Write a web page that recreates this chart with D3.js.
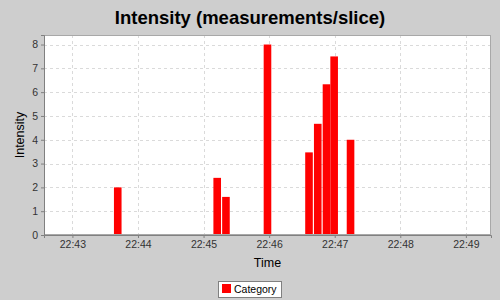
<!DOCTYPE html>
<html><head><meta charset="utf-8">
<script src="https://cdn.jsdelivr.net/npm/d3@7"></script>
<style>html,body{margin:0;padding:0;background:#cecece;}svg{display:block;}</style>
</head><body>
<svg id="chart" width="500" height="300"></svg>
<script>
const title = "Intensity (measurements/slice)";
const xLabel = "Time";
const yLabel = "Intensity";
const seriesName = "Category";
const sliceStarts = ["22:43:38","22:45:09","22:45:17","22:45:55","22:46:33","22:46:41","22:46:49","22:46:56","22:47:11"];
const values = [2, 2.4, 1.6, 8, 3.47, 4.67, 6.33, 7.5, 4];
const sliceSeconds = 7.6;
const xDomain = ["22:42:34", "22:49:23"];
const yTicks = [0,1,2,3,4,5,6,7,8];
const yMax = 8.4;

const parse = d3.utcParse("%H:%M:%S");
const svg = d3.select("#chart");
const W = 500, H = 300;
const m = {left: 44, right: 9, top: 35, bottom: 65};
const pw = W - m.left - m.right, ph = H - m.top - m.bottom;

svg.append("rect").attr("width", W).attr("height", H).attr("fill", "#cecece");

const x = d3.scaleUtc().domain(xDomain.map(parse)).range([m.left, m.left + pw]);
const y = d3.scaleLinear().domain([0, yMax]).range([m.top + ph, m.top]);

// plot background
svg.append("rect").attr("x", m.left).attr("y", m.top).attr("width", pw).attr("height", ph)
  .attr("fill", "#ffffff");

const xTicks = x.ticks(d3.utcMinute.every(1));
// gridlines
svg.append("g").selectAll("line").data(yTicks.filter(d => d > 0)).join("line")
  .attr("x1", m.left).attr("x2", m.left + pw)
  .attr("y1", d => Math.round(y(d)) + 0.5).attr("y2", d => Math.round(y(d)) + 0.5)
  .attr("stroke", "#dadada").attr("stroke-dasharray", "3,3");
svg.append("g").selectAll("line").data(xTicks).join("line")
  .attr("x1", d => Math.round(x(d)) + 0.5).attr("x2", d => Math.round(x(d)) + 0.5)
  .attr("y1", m.top).attr("y2", m.top + ph)
  .attr("stroke", "#dadada").attr("stroke-dasharray", "3,3");

// bars
const data = sliceStarts.map((s, i) => ({t: parse(s), v: values[i]}));
svg.append("g").selectAll("rect").data(data).join("rect")
  .attr("x", d => x(d.t))
  .attr("width", d => x(new Date(d.t.getTime() + sliceSeconds * 1000)) - x(d.t) - 0.7)
  .attr("y", d => y(d.v))
  .attr("height", d => y(0) - y(d.v))
  .attr("fill", "#ff0000");

// plot outline
svg.append("rect").attr("x", m.left + 0.5).attr("y", m.top + 0.5).attr("width", pw - 1).attr("height", ph - 1)
  .attr("fill", "none").attr("stroke", "#a8a8a8");

// axes
const font = "'Liberation Sans', Arial, sans-serif";
const yAxis = svg.append("g").attr("transform", `translate(${m.left},0)`)
  .call(d3.axisLeft(y).tickValues(yTicks).tickSize(3).tickPadding(3).tickFormat(d3.format("d")));
const xAxis = svg.append("g").attr("transform", `translate(0,${m.top + ph})`)
  .call(d3.axisBottom(x).tickValues(xTicks).tickSize(3).tickPadding(3).tickFormat(d3.utcFormat("%H:%M")));
[yAxis, xAxis].forEach(g => {
  g.select(".domain").attr("stroke", "#808080");
  g.selectAll(".tick line").attr("stroke", "#808080");
  g.selectAll(".tick text").attr("fill", "#333").style("font-family", font).style("font-size", "10.5px");
});

// title
svg.append("text").attr("x", 250).attr("y", 24).attr("text-anchor", "middle")
  .style("font-family", font).style("font-weight", "bold").style("font-size", "18.5px")
  .attr("fill", "#000").text(title);
// axis labels
svg.append("text").attr("x", m.left + pw / 2).attr("y", 267).attr("text-anchor", "middle")
  .style("font-family", font).style("font-size", "12.5px").attr("fill", "#000").text(xLabel);
svg.append("text").attr("transform", `translate(24,${m.top + ph / 2}) rotate(-90)`).attr("text-anchor", "middle")
  .style("font-family", font).style("font-size", "12.5px").attr("fill", "#000").text(yLabel);

// legend
const lg = svg.append("g");
lg.append("rect").attr("x", 218.5).attr("y", 281.5).attr("width", 63).attr("height", 16)
  .attr("fill", "#fff").attr("stroke", "#808080");
lg.append("rect").attr("x", 222).attr("y", 284).attr("width", 9).attr("height", 9).attr("fill", "#ff0000");
lg.append("text").attr("x", 234).attr("y", 293).style("font-family", font).style("font-size", "10.5px")
  .attr("fill", "#000").text(seriesName);
</script>
</body></html>
